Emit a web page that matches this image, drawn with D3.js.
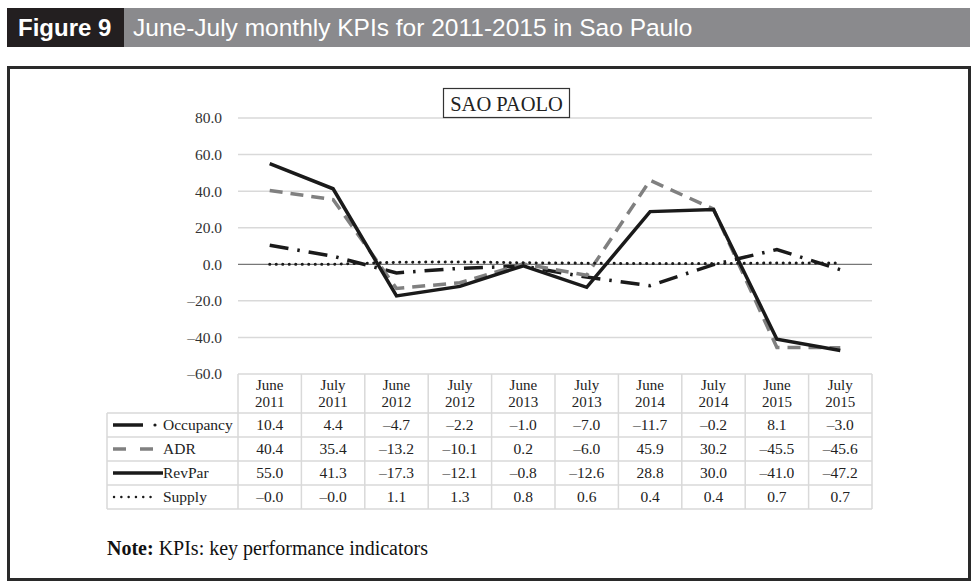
<!DOCTYPE html>
<html>
<head>
<meta charset="utf-8">
<script src="https://cdn.jsdelivr.net/npm/d3@7"></script>
<style>
  body { margin: 0; background: #fff; }
  svg { display: block; }
</style>
</head>
<body>
<div id="chart"></div>
<script>
// Data
const categories = ["June 2011", "July 2011", "June 2012", "July 2012", "June 2013",
                    "July 2013", "June 2014", "July 2014", "June 2015", "July 2015"];
const occupancy = [10.4, 4.4, -4.7, -2.2, -1.0, -7.0, -11.7, -0.2, 8.1, -3.0];
const adr       = [40.4, 35.4, -13.2, -10.1, 0.2, -6.0, 45.9, 30.2, -45.5, -45.6];
const revpar    = [55.0, 41.3, -17.3, -12.1, -0.8, -12.6, 28.8, 30.0, -41.0, -47.2];
const supply    = [-0.0, -0.0, 1.1, 1.3, 0.8, 0.6, 0.4, 0.4, 0.7, 0.7];
const yTicks = [-60, -40, -20, 0, 20, 40, 60, 80];

const series = [
    { name: "Occupancy", values: occupancy, color: "#1a1a1a", width: 3.5, dash: "19,9,2.5,9", cap: "butt" },
    { name: "ADR",       values: adr,       color: "#808080", width: 3.5, dash: "13,8",       cap: "butt" },
    { name: "RevPar",    values: revpar,    color: "#1a1a1a", width: 3.5, dash: null,         cap: "butt" },
    { name: "Supply",    values: supply,    color: "#1a1a1a", width: 3,   dash: "0.1,6.4",    cap: "round" }
];

const W = 976, H = 585;
const serif = "'Liberation Serif', 'Times New Roman', serif";
const sans = "'Liberation Sans', Arial, sans-serif";

const svg = d3.select("#chart").append("svg")
    .attr("width", W)
    .attr("height", H);

// Header bar
svg.append("rect").attr("x", 7).attr("y", 8).attr("width", 963).attr("height", 39).attr("fill", "#8a8a8d");
svg.append("rect").attr("x", 7).attr("y", 8).attr("width", 117).attr("height", 39).attr("fill", "#231f20");
svg.append("text").attr("x", 18).attr("y", 36)
    .attr("fill", "#fff").style("font-family", sans).style("font-size", "24px").style("font-weight", "bold")
    .text("Figure 9");
svg.append("text").attr("x", 133).attr("y", 36)
    .attr("fill", "#fff").style("font-family", sans).style("font-size", "24.5px")
    .text("June-July monthly KPIs for 2011-2015 in Sao Paulo");

// Outer frame
svg.append("rect").attr("x", 8.5).attr("y", 67.5).attr("width", 961).attr("height", 512)
    .attr("fill", "none").attr("stroke", "#2a2a2a").attr("stroke-width", 3);

// Scales
const x = d3.scaleBand().domain(categories).range([238, 872]);
const y = d3.scaleLinear().domain([-60, 80]).range([374, 118]);
const cx = d => x(d) + x.bandwidth() / 2;

const fmt = v => (v < 0 || Object.is(v, -0) ? "\u2013" : "") + Math.abs(v).toFixed(1);

// Grid lines
svg.append("g")
    .selectAll("line")
    .data(yTicks.filter(t => t !== 0 && t !== -60))
    .join("line")
    .attr("x1", 238).attr("x2", 872)
    .attr("y1", d => y(d)).attr("y2", d => y(d))
    .attr("stroke", "#d9d9d9").attr("stroke-width", 1.5);

// Y axis labels
const yAxis = svg.append("g")
    .attr("transform", "translate(238,0)")
    .call(d3.axisLeft(y).tickValues(yTicks).tickSize(0).tickPadding(16).tickFormat(fmt));
yAxis.select(".domain").remove();
yAxis.selectAll("text")
    .style("font-family", serif).style("font-size", "15.5px").attr("fill", "#333");

// Title box
const tg = svg.append("g");
tg.append("rect").attr("x", 443.5).attr("y", 88.5).attr("width", 126).attr("height", 29)
    .attr("fill", "#fff").attr("stroke", "#333").attr("stroke-width", 1.2);
tg.append("text").attr("x", 506.5).attr("y", 110.5).attr("text-anchor", "middle")
    .style("font-family", serif).style("font-size", "20.5px").attr("fill", "#222")
    .text("SAO PAOLO");

// Table
const tableTop = 374, headerBottom = 413, rowH = 24;
const rowsBottom = headerBottom + rowH * series.length;
const tbl = svg.append("g").attr("stroke", "#d9d9d9").attr("stroke-width", 1.5);
tbl.append("line").attr("x1", 238).attr("x2", 872).attr("y1", tableTop).attr("y2", tableTop);
d3.range(series.length + 1).forEach(i => {
    const yy = headerBottom + i * rowH;
    tbl.append("line").attr("x1", 107).attr("x2", 872).attr("y1", yy).attr("y2", yy);
});
tbl.append("line").attr("x1", 107).attr("x2", 107).attr("y1", headerBottom).attr("y2", rowsBottom);
tbl.selectAll(".vcol")
    .data(categories.concat(["end"]))
    .join("line")
    .attr("x1", (d, i) => i < categories.length ? x(d) : 872)
    .attr("x2", (d, i) => i < categories.length ? x(d) : 872)
    .attr("y1", tableTop).attr("y2", rowsBottom);

// Column headers
const hdr = svg.append("g").style("font-family", serif).style("font-size", "15px").attr("fill", "#222");
categories.forEach(c => {
    const parts = c.split(" ");
    const t = hdr.append("text").attr("text-anchor", "middle");
    t.append("tspan").attr("x", cx(c)).attr("y", 390).text(parts[0]);
    t.append("tspan").attr("x", cx(c)).attr("y", 407).text(parts[1]);
});

// Rows: legend key + values
series.forEach((s, i) => {
    const rowY = headerBottom + i * rowH + rowH / 2;
    const key = svg.append("g");
    if (s.name === "Occupancy") {
        key.append("line").attr("x1", 113).attr("x2", 143).attr("y1", rowY).attr("y2", rowY)
            .attr("stroke", s.color).attr("stroke-width", s.width);
        key.append("circle").attr("cx", 155).attr("cy", rowY).attr("r", 1.6).attr("fill", s.color);
    } else if (s.name === "ADR") {
        key.append("line").attr("x1", 113).attr("x2", 154).attr("y1", rowY).attr("y2", rowY)
            .attr("stroke", s.color).attr("stroke-width", s.width).attr("stroke-dasharray", "13,14");
    } else if (s.name === "RevPar") {
        key.append("line").attr("x1", 113).attr("x2", 163).attr("y1", rowY).attr("y2", rowY)
            .attr("stroke", s.color).attr("stroke-width", s.width);
    } else {
        key.append("line").attr("x1", 114).attr("x2", 156).attr("y1", rowY).attr("y2", rowY)
            .attr("stroke", s.color).attr("stroke-width", 2.4).attr("stroke-linecap", "round")
            .attr("stroke-dasharray", "0.1,7.2");
    }
    svg.append("text").attr("x", 163).attr("y", rowY + 5)
        .style("font-family", serif).style("font-size", "15.5px").attr("fill", "#222")
        .text(s.name);
    svg.append("g").selectAll("text")
        .data(s.values)
        .join("text")
        .attr("x", (d, j) => cx(categories[j]))
        .attr("y", rowY + 5)
        .attr("text-anchor", "middle")
        .style("font-family", serif).style("font-size", "15.5px").attr("fill", "#222")
        .text(fmt);
});

// Zero line
svg.append("line").attr("x1", 238).attr("x2", 872).attr("y1", y(0)).attr("y2", y(0))
    .attr("stroke", "#777").attr("stroke-width", 1.2);

// Series lines
const line = d3.line()
    .x((d, j) => cx(categories[j]))
    .y(d => y(d));

series.forEach(s => {
    svg.append("path")
        .datum(s.values)
        .attr("d", line)
        .attr("fill", "none")
        .attr("stroke", s.color)
        .attr("stroke-width", s.width)
        .attr("stroke-linejoin", "miter")
        .attr("stroke-linecap", s.cap)
        .attr("stroke-dasharray", s.dash);
});

// Note
const note = svg.append("text").attr("x", 107).attr("y", 555)
    .style("font-family", serif).style("font-size", "20px").attr("fill", "#111");
note.append("tspan").style("font-weight", "bold").text("Note:");
note.append("tspan").text(" KPIs: key performance indicators");
</script>
</body>
</html>
